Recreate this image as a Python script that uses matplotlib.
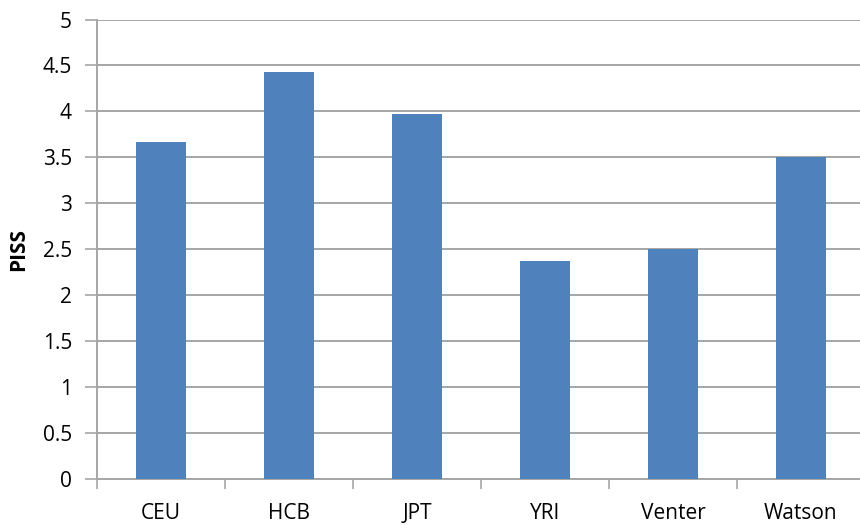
import matplotlib
matplotlib.use("Agg")
import matplotlib.pyplot as plt
import numpy as np

categories = ["CEU", "HCB", "JPT", "YRI", "Venter", "Watson"]
piss_values = [3.67, 4.43, 3.97, 2.37, 2.50, 3.50]
y_ticks = [0, 0.5, 1, 1.5, 2, 2.5, 3, 3.5, 4, 4.5, 5]
y_labels = ["0", "0.5", "1", "1.5", "2", "2.5", "3", "3.5", "4", "4.5", "5"]

plt.rcParams["font.family"] = ["Open Sans", "DejaVu Sans"]

fig = plt.figure(figsize=(8.6, 5.25), dpi=100)
ax = fig.add_axes([97 / 860, 46 / 525, 768 / 860, 459.5 / 525])

x = np.arange(len(categories))
ax.bar(x, piss_values, width=0.39, color="#4F81BD", zorder=3)

ax.set_xlim(-0.5, len(categories) - 0.5)
ax.set_ylim(0, 5)
ax.set_yticks(y_ticks)
ax.set_yticklabels(y_labels, fontsize=15)
ax.yaxis.grid(True, color="#a6a6a6", linewidth=1.4, zorder=0)

# category labels centred, tick marks between categories
ax.set_xticks(x)
ax.set_xticklabels(categories, fontsize=15)
ax.tick_params(axis="x", which="major", length=0, pad=17)
ax.set_xticks(np.arange(len(categories)) - 0.5, minor=True)
ax.tick_params(axis="x", which="minor", length=7, width=1.2, color="#a6a6a6")
ax.tick_params(axis="y", length=9, width=1.2, color="#a6a6a6", pad=9)

for side in ["top", "right"]:
    ax.spines[side].set_visible(False)
for side in ["left", "bottom"]:
    ax.spines[side].set_color("#a6a6a6")
    ax.spines[side].set_linewidth(1.4)

ax.set_ylabel("PISS", fontsize=15, fontweight="bold", labelpad=10)

fig.savefig("out.png", dpi=100)
